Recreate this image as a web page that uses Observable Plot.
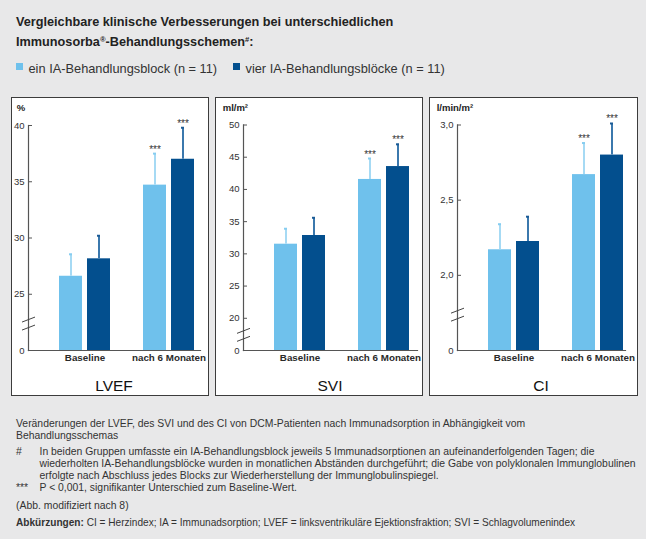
<!DOCTYPE html>
<html>
<head>
<meta charset="utf-8">
<script src="https://cdn.jsdelivr.net/npm/d3@7"></script>
<script src="https://cdn.jsdelivr.net/npm/@observablehq/plot@0.6"></script>
<style>
  body { margin: 0; background: #fff; }
  #page { position: relative; width: 650px; height: 552px; font-family: "Liberation Sans", Arial, sans-serif; color: #222; overflow: hidden; }
  .abs { position: absolute; white-space: nowrap; }
  .panel { position: absolute; box-sizing: border-box; border: 1.5px solid #3c3c3c; background: #fff; }
  .plot { position: absolute; }
  sup { font-size: 0.6em; vertical-align: 0.55em; line-height: 0; }
</style>
</head>
<body>
<div id="page"></div>
<script>
// ---------------- data ----------------
const categories = ["Baseline", "nach 6 Monaten"];
const series = ["ein IA-Behandlungsblock (n = 11)", "vier IA-Behandlungsblöcke (n = 11)"];
const stars = ["", "***"];

const lvefEin = [26.6, 34.7];
const lvefEinErr = [28.55, 37.5];
const lvefVier = [28.15, 37.0];
const lvefVierErr = [30.2, 39.8];
const lvefTicks = [25, 30, 35, 40];
const lvefFloor = 20;

const sviEin = [31.5, 41.55];
const sviEinErr = [33.9, 44.8];
const sviVier = [32.85, 43.55];
const sviVierErr = [35.6, 47.0];
const sviTicks = [20, 25, 30, 35, 40, 45, 50];
const sviFloor = 15;

const ciEin = [2.17, 2.67];
const ciEinErr = [2.34, 2.88];
const ciVier = [2.225, 2.80];
const ciVierErr = [2.39, 3.01];
const ciTicks = [2.0, 2.5, 3.0];
const ciFloor = 1.5;

// ---------------- styles ----------------
const LIGHT = "#6fc1ec", DARK = "#034f8e";
const LIGHT_ERR = "#a6daf4", DARK_ERR = "#3b78ad";
const LIGHT_CAP = "#86cdf0", DARK_CAP = "#1b5b96";
const AXIS = "#555";
const FONT = '"Liberation Sans", Arial, sans-serif';

const page = document.getElementById("page");
function div(html, css) {
  const d = document.createElement("div");
  d.className = "abs";
  d.innerHTML = html;
  Object.assign(d.style, css);
  page.appendChild(d);
  return d;
}
// place text so that its baseline lands at y
function textAt(html, x, baseline, fs, extra = {}) {
  return div(html, Object.assign({left: x + "px", top: (baseline - 0.8465 * fs) + "px", fontSize: fs + "px", lineHeight: fs + "px"}, extra));
}

// background
div("", {left: "0px", top: "0px", width: "646px", height: "539px", background: "#e8e8e9"});

// title
textAt("Vergleichbare klinische Verbesserungen bei unterschiedlichen", 16, 26.7, 12.7, {fontWeight: "bold", color: "#222"});
textAt("Immunosorba<sup>®</sup>-Behandlungsschemen<sup>#</sup>:", 16, 46.5, 12.7, {fontWeight: "bold", color: "#222"});

// legend
const legendX = [16, 233];
series.forEach((s, i) => {
  div("", {left: legendX[i] + "px", top: "63px", width: "7px", height: "7px", background: i === 0 ? LIGHT : DARK});
  textAt(s, legendX[i] + 12.5, 74, 12.8, {color: "#333"});
});

// ---------------- panels ----------------
function makePanel(cfg) {
  const {left, width, mL, mT, mR, xRange, floor, ticks, fmt, ein, einErr, vier, vierErr, unit, title, unitDx} = cfg;
  const top = 97, panelH = 299, svgH = 270, mB = 17;
  const p = document.createElement("div");
  p.className = "panel";
  Object.assign(p.style, {left: left + "px", top: top + "px", width: width + "px", height: panelH + "px"});
  page.appendChild(p);

  const rows = categories.map((c, i) => ({cat: c, ein: ein[i], einErr: einErr[i], vier: vier[i], vierErr: vierErr[i], star: stars[i]}));
  const brk = floor + (ticks[0] - floor) * 0.47;
  const allTicks = [floor, ...ticks];
  const innerW = width - mL - mR;

  const breakMark = (index, scales, values, dims) => {
    const g = d3.create("svg:g").attr("stroke", "#444").attr("stroke-width", 1);
    const x0 = dims.marginLeft;
    const yc = scales.y(brk);
    for (const off of [-4, 4]) {
      g.append("line")
        .attr("x1", x0 - 6).attr("x2", x0 + 7)
        .attr("y1", yc + off + 2.5).attr("y2", yc + off - 2.5);
    }
    return g.node();
  };

  const chart = Plot.plot({
    width, height: svgH,
    marginLeft: mL, marginRight: mR, marginTop: mT, marginBottom: mB,
    style: {background: "transparent", fontFamily: FONT, overflow: "visible", color: "#333"},
    x: {domain: categories, range: xRange, paddingInner: 33 / 84, paddingOuter: 0, round: false, label: null},
    y: {domain: [floor, ticks[ticks.length - 1]], label: null},
    marks: [
      Plot.barY(rows, {x: "cat", y1: floor, y2: "ein", fill: LIGHT, insetRight: 28}),
      Plot.barY(rows, {x: "cat", y1: floor, y2: "vier", fill: DARK, insetLeft: 28}),
      Plot.ruleX(rows, {x: "cat", y1: "ein", y2: "einErr", stroke: LIGHT_ERR, strokeWidth: 2, dx: -14}),
      Plot.ruleX(rows, {x: "cat", y1: "vier", y2: "vierErr", stroke: DARK_ERR, strokeWidth: 2, dx: 14}),
      Plot.tickY(rows, {x: "cat", y: "einErr", stroke: LIGHT_CAP, strokeWidth: 2, insetLeft: 10, insetRight: 38}),
      Plot.tickY(rows, {x: "cat", y: "vierErr", stroke: DARK_CAP, strokeWidth: 2, insetLeft: 38, insetRight: 10}),
      Plot.text(rows, {x: "cat", y: "einErr", text: "star", dx: -14, dy: -1, lineAnchor: "bottom", fontSize: 10, fill: "#333"}),
      Plot.text(rows, {x: "cat", y: "vierErr", text: "star", dx: 14, dy: -1, lineAnchor: "bottom", fontSize: 10, fill: "#333"}),
      Plot.tickY(ticks, {y: d => d, stroke: AXIS, strokeWidth: 1, insetRight: innerW - 4}),
      Plot.axisY({ticks: allTicks, tickSize: 0, tickPadding: 4, tickFormat: d => d === floor ? "0" : fmt(d), fontSize: 9.5, label: null, fill: "#333"}),
      Plot.axisX({tickSize: 0, tickPadding: 4, fontSize: 9.8, fontWeight: "bold", label: null, fill: "#2a2a2a"}),
      Plot.frame({anchor: "left", stroke: AXIS, strokeWidth: 1.2}),
      Plot.frame({anchor: "bottom", stroke: AXIS, strokeWidth: 1.2}),
      breakMark
    ]
  });
  chart.classList.add("plot");
  Object.assign(chart.style, {left: left + "px", top: top + "px", position: "absolute"});
  page.appendChild(chart);

  // unit label
  textAt(unit, left + unitDx, 111.5, 9.5, {fontWeight: "bold", color: "#222"});
  // panel title centred on the plot area
  const cx = left + mL + innerW / 2;
  textAt(title, cx - 50, 391, 15.5, {width: "100px", textAlign: "center", color: "#111"});
}

const deFmt = d3.format(".1f");
makePanel({left: 11, width: 198, mL: 17, mT: 28, mR: 9, xRange: [48, 183], floor: lvefFloor, ticks: lvefTicks,
  fmt: d => String(d), ein: lvefEin, einErr: lvefEinErr, vier: lvefVier, vierErr: lvefVierErr, unit: "%", title: "LVEF", unitDx: 5.7});
makePanel({left: 215, width: 208, mL: 28, mT: 27.5, mR: 6, xRange: [59, 194], floor: sviFloor, ticks: sviTicks,
  fmt: d => String(d), ein: sviEin, einErr: sviEinErr, vier: sviVier, vierErr: sviVierErr, unit: "ml/m²", title: "SVI", unitDx: 7.7});
makePanel({left: 429, width: 209, mL: 28, mT: 27.5, mR: 13, xRange: [59, 194], floor: ciFloor, ticks: ciTicks,
  fmt: d => deFmt(d).replace(".", ","), ein: ciEin, einErr: ciEinErr, vier: ciVier, vierErr: ciVierErr, unit: "l/min/m²", title: "CI", unitDx: 7.7});

// ---------------- footnotes ----------------
const FN = 10.4, FNC = "#333";
textAt("Veränderungen der LVEF, des SVI und des CI von DCM-Patienten nach Immunadsorption in Abhängigkeit vom", 16, 427.5, FN, {color: FNC});
textAt("Behandlungsschemas", 16, 439.5, FN, {color: FNC});
textAt("#", 16, 455.5, FN, {color: FNC});
textAt("In beiden Gruppen umfasste ein IA-Behandlungsblock jeweils 5 Immunadsorptionen an aufeinanderfolgenden Tagen; die", 39.5, 455.5, FN, {color: FNC});
textAt("wiederholten IA-Behandlungsblöcke wurden in monatlichen Abständen durchgeführt; die Gabe von polyklonalen Immunglobulinen", 39.5, 467.5, FN, {color: FNC});
textAt("erfolgte nach Abschluss jedes Blocks zur Wiederherstellung der Immunglobulinspiegel.", 39.5, 479.5, FN, {color: FNC});
textAt("***", 16, 491.5, FN, {color: FNC});
textAt("P &lt; 0,001, signifikanter Unterschied zum Baseline-Wert.", 39.5, 491.5, FN, {color: FNC});
textAt("(Abb. modifiziert nach 8)", 16, 509.5, FN, {color: FNC});
textAt("<b>Abkürzungen:</b> CI = Herzindex; IA = Immunadsorption; LVEF = linksventrikuläre Ejektionsfraktion; SVI = Schlagvolumenindex", 16, 526.5, 10.1, {color: FNC});
</script>
</body>
</html>
